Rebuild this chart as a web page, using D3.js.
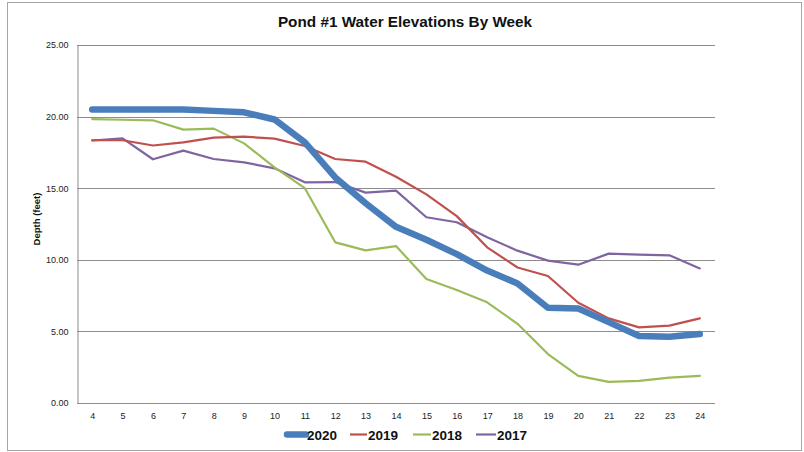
<!DOCTYPE html>
<html>
<head>
<meta charset="utf-8">
<script src="https://cdn.jsdelivr.net/npm/d3@7"></script>
<style>
  body { margin: 0; background: #fff; }
  text { font-family: "Liberation Sans", Arial, sans-serif; }
</style>
</head>
<body>
<div id="chart"></div>
<script>
// Weeks on the x axis
let weeks = [4, 5, 6, 7, 8, 9, 10, 11, 12, 13, 14, 15, 16, 17, 18, 19, 20, 21, 22, 23, 24];

// Depth (feet) by week, per year
let y2020 = [20.5, 20.5, 20.5, 20.5, 20.4, 20.3, 19.8, 18.2, 15.75, 13.95, 12.3, 11.4, 10.4, 9.25, 8.35, 6.65, 6.6, 5.65, 4.68, 4.63, 4.82];
let y2019 = [18.35, 18.35, 17.98, 18.2, 18.53, 18.6, 18.46, 17.95, 17.04, 16.85, 15.8, 14.57, 13.05, 10.87, 9.46, 8.87, 7.0, 5.91, 5.28, 5.4, 5.91];
let y2018 = [19.83, 19.78, 19.74, 19.09, 19.16, 18.13, 16.45, 15.0, 11.22, 10.66, 10.96, 8.66, 7.89, 7.03, 5.53, 3.42, 1.89, 1.47, 1.54, 1.77, 1.89];
let y2017 = [18.33, 18.48, 17.02, 17.62, 17.04, 16.8, 16.39, 15.41, 15.43, 14.69, 14.83, 12.97, 12.62, 11.57, 10.64, 9.94, 9.66, 10.43, 10.36, 10.31, 9.4];

let yTicks = [0, 5, 10, 15, 20, 25];

// Series, drawn back to front
let series = [
  { name: "2017", values: y2017, color: "#8064A2", width: 2.2 },
  { name: "2018", values: y2018, color: "#9BBB59", width: 2.2 },
  { name: "2019", values: y2019, color: "#C0504D", width: 2.2 },
  { name: "2020", values: y2020, color: "#4A7EBB", width: 6.5 },
];

let svgWidth = 804;
let svgHeight = 452;

let plot = { left: 77, right: 715, top: 45, bottom: 403 };

let svg = d3.select("#chart")
  .append("svg")
  .attr("width", svgWidth)
  .attr("height", svgHeight);

// Outer frame
svg.append("rect")
  .attr("x", 7.5)
  .attr("y", 2.5)
  .attr("width", 794)
  .attr("height", 448)
  .attr("fill", "#fff")
  .attr("stroke", "#a6a6a6")
  .attr("stroke-width", 1);

// Scales
let xScale = d3.scalePoint()
  .domain(weeks)
  .range([plot.left, plot.right])
  .padding(0.5);

let yScale = d3.scaleLinear()
  .domain([0, 25])
  .range([plot.bottom, plot.top]);

// Gridlines
svg.append("g")
  .selectAll("line")
  .data(yTicks.filter((d) => d > 0))
  .enter()
  .append("line")
  .attr("x1", plot.left)
  .attr("x2", plot.right)
  .attr("y1", (d) => Math.round(yScale(d)) + 0.5)
  .attr("y2", (d) => Math.round(yScale(d)) + 0.5)
  .attr("stroke", "#8c8c8c")
  .attr("stroke-width", 1);

// Y axis
let leftAxis = d3.axisLeft(yScale)
  .tickValues(yTicks)
  .tickFormat(d3.format(".2f"))
  .tickSize(0)
  .tickPadding(9);

let yAxis = svg.append("g")
  .attr("transform", `translate(${plot.left + 0.5}, 0)`)
  .call(leftAxis);
yAxis.select(".domain").attr("stroke", "#8c8c8c");
yAxis.selectAll("text")
  .attr("font-size", "9px")
  .attr("fill", "#222")
  .style("font-family", "'Liberation Sans', Arial, sans-serif");

// X axis
let bottomAxis = d3.axisBottom(xScale)
  .tickSize(0)
  .tickPadding(9);

let xAxis = svg.append("g")
  .attr("transform", `translate(0, ${plot.bottom + 0.5})`)
  .call(bottomAxis);
xAxis.select(".domain")
  .attr("stroke", "#8c8c8c")
  .attr("d", `M${plot.left},0H${plot.right}`);
xAxis.selectAll("text")
  .attr("font-size", "9px")
  .attr("fill", "#222")
  .style("font-family", "'Liberation Sans', Arial, sans-serif");

// Lines
let line = d3.line()
  .x((d, i) => xScale(weeks[i]))
  .y((d) => yScale(d));

svg.append("g")
  .selectAll("path")
  .data(series)
  .enter()
  .append("path")
  .attr("d", (d) => line(d.values))
  .attr("fill", "none")
  .attr("stroke", (d) => d.color)
  .attr("stroke-width", (d) => d.width)
  .attr("stroke-linejoin", "round")
  .attr("stroke-linecap", "round");

// Title
svg.append("text")
  .attr("x", 405)
  .attr("y", 27)
  .attr("text-anchor", "middle")
  .attr("font-size", "15.3px")
  .attr("font-weight", "bold")
  .attr("fill", "#111")
  .text("Pond #1 Water Elevations By Week");

// Y axis title
svg.append("text")
  .attr("transform", "translate(40, 219) rotate(-90)")
  .attr("text-anchor", "middle")
  .attr("font-size", "9.5px")
  .attr("font-weight", "bold")
  .attr("fill", "#111")
  .text("Depth (feet)");

// Legend
let legendItems = [
  { name: "2020", color: "#4A7EBB", width: 6.5, x1: 287, x2: 306, tx: 307 },
  { name: "2019", color: "#C0504D", width: 2.2, x1: 350, x2: 367, tx: 368 },
  { name: "2018", color: "#9BBB59", width: 2.2, x1: 413, x2: 431, tx: 432 },
  { name: "2017", color: "#8064A2", width: 2.2, x1: 476, x2: 496, tx: 497 },
];

let legend = svg.append("g");
legend.selectAll("line")
  .data(legendItems)
  .enter()
  .append("line")
  .attr("x1", (d) => d.x1)
  .attr("x2", (d) => d.x2)
  .attr("y1", 434.5)
  .attr("y2", 434.5)
  .attr("stroke", (d) => d.color)
  .attr("stroke-width", (d) => d.width)
  .attr("stroke-linecap", (d) => (d.width > 3 ? "round" : "butt"));

legend.selectAll("text")
  .data(legendItems)
  .enter()
  .append("text")
  .attr("x", (d) => d.tx)
  .attr("y", 439.5)
  .attr("font-size", "13.5px")
  .attr("font-weight", "bold")
  .attr("fill", "#111")
  .text((d) => d.name);
</script>
</body>
</html>
